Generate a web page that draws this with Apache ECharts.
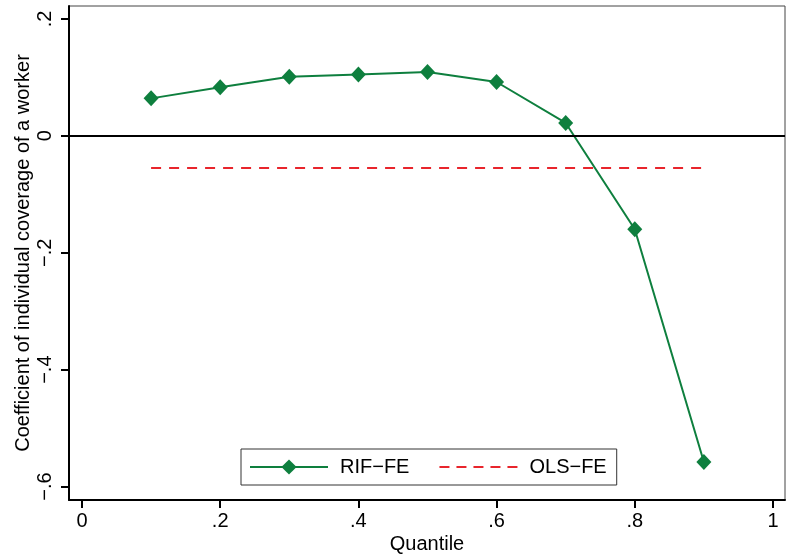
<!DOCTYPE html>
<html>
<head>
<meta charset="utf-8">
<style>
  html, body { margin: 0; padding: 0; background: #fff; }
  #chart { width: 788px; height: 555px; }
</style>
<script src="https://cdn.jsdelivr.net/npm/echarts@6/dist/echarts.min.js"></script>
</head>
<body>
<div id="chart"></div>
<script>
// Quantiles at which the RIF-FE regressions were estimated
const quantiles = [0.1, 0.2, 0.3, 0.4, 0.5, 0.6, 0.7, 0.8, 0.9];
// RIF-FE coefficient of individual coverage at each quantile
const rifFe = [0.064, 0.083, 0.101, 0.105, 0.109, 0.092, 0.022, -0.160, -0.558];
// OLS-FE coefficient (constant across quantiles)
const olsFe = -0.055;
const olsSpan = [0.1, 0.9];
// Axis tick values
const xTicks = [0, 0.2, 0.4, 0.6, 0.8, 1];
const yTicks = [-0.6, -0.4, -0.2, 0, 0.2];

const FONT = 'Liberation Sans, Arial, sans-serif';

function stataNum(v) {
  if (Math.abs(v) < 1e-9) return '0';
  let s = String(Math.round(v * 100) / 100);
  s = s.replace(/^(-?)0\./, '$1.');
  return s.replace('-', '\u2212');
}

const chart = echarts.init(document.getElementById('chart'), null, { renderer: 'canvas' });

chart.setOption({
  backgroundColor: '#ffffff',
  animation: false,
  grid: {
    left: 69, right: 3, top: 6, bottom: 55,
    outerBoundsMode: 'none', containLabel: false,
    show: true, borderColor: '#444', borderWidth: 1, backgroundColor: '#ffffff'
  },
  legend: {
    left: 241, top: 449, width: 374, height: 37,
    padding: [8, 10, 8, 8],
    itemGap: 30,
    itemWidth: 78, itemHeight: 19,
    borderColor: '#333', borderWidth: 1,
    textStyle: { fontFamily: FONT, fontSize: 20, color: '#000', padding: [0, 0, 0, 7] },
    data: [
      { name: 'RIF\u2212FE' },
      { name: 'OLS\u2212FE', icon: 'path://M0,6h10v2h-10z M17,6h10v2h-10z M34,6h10v2h-10z M51,6h10v2h-10z M68,6h10v2h-10z' }
    ]
  },
  xAxis: {
    type: 'value',
    min: -0.0188, max: 1.0174,
    name: 'Quantile', nameLocation: 'middle', nameGap: 34, nameMoveOverlap: false,
    nameTextStyle: { fontFamily: FONT, fontSize: 20, color: '#000' },
    axisLine: { show: true, onZero: false, lineStyle: { color: '#000', width: 2 } },
    axisTick: { show: true, length: 8, lineStyle: { color: '#000', width: 2 }, customValues: xTicks },
    axisLabel: { fontFamily: FONT, fontSize: 20, color: '#000', margin: 11, customValues: xTicks, formatter: stataNum },
    splitLine: { show: false }
  },
  yAxis: {
    type: 'value',
    min: -0.623, max: 0.222,
    name: 'Coefficient of individual coverage of a worker', nameLocation: 'middle', nameGap: 36, nameMoveOverlap: false,
    nameTextStyle: { fontFamily: FONT, fontSize: 20, color: '#000' },
    axisLine: { show: true, onZero: false, lineStyle: { color: '#000', width: 2 } },
    axisTick: { show: true, length: 8, lineStyle: { color: '#000', width: 2 }, customValues: yTicks },
    axisLabel: { fontFamily: FONT, fontSize: 20, color: '#000', margin: 14, rotate: 90, customValues: yTicks, formatter: stataNum },
    splitLine: { show: false }
  },
  series: [
    {
      name: 'RIF\u2212FE',
      type: 'line',
      data: quantiles.map((q, i) => [q, rifFe[i]]),
      symbol: 'diamond', symbolSize: [15, 16],
      itemStyle: { color: '#0e7f3e' },
      lineStyle: { color: '#0e7f3e', width: 2 },
      z: 3,
      markLine: {
        silent: true, symbol: 'none', label: { show: false },
        lineStyle: { color: '#000', width: 2, type: 'solid' },
        data: [{ yAxis: 0 }]
      }
    },
    {
      name: 'OLS\u2212FE',
      type: 'line',
      data: olsSpan.map(q => [q, olsFe]),
      symbol: 'none',
      itemStyle: { color: '#e8252c' },
      lineStyle: { color: '#e8252c', width: 2, type: [10, 8] },
      z: 2
    }
  ]
});
</script>
</body>
</html>
